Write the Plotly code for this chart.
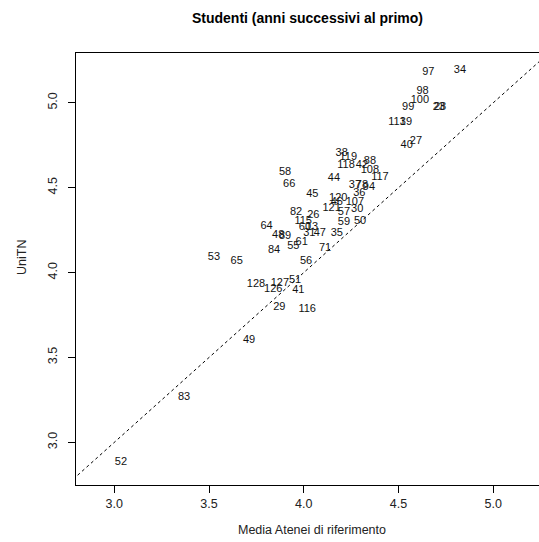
import plotly.graph_objects as go

labels = ["97", "34", "98", "100", "23", "28", "99", "113", "19", "40", "27",
          "38", "119", "118", "42", "88", "108", "117", "58", "66", "44",
          "37", "78", "94", "36", "45", "120", "46", "107", "121", "57", "30",
          "82", "26", "59", "50", "115", "60", "13", "31", "47", "35", "64",
          "48", "89", "55", "61", "84", "71", "56", "53", "65", "128", "127",
          "126", "51", "41", "29", "116", "49", "83", "52"]
media_atenei = [4.657, 4.824, 4.627, 4.613, 4.713, 4.719, 4.551, 4.492, 4.539, 4.543, 4.592,
                4.200, 4.235, 4.223, 4.307, 4.349, 4.349, 4.402, 3.901, 3.923, 4.159,
                4.270, 4.307, 4.344, 4.293, 4.045, 4.182, 4.174, 4.270, 4.147, 4.212, 4.282,
                3.959, 4.050, 4.212, 4.297, 3.997, 4.006, 4.043, 4.029, 4.085, 4.174, 3.804,
                3.865, 3.901, 3.945, 3.989, 3.843, 4.112, 4.012, 3.526, 3.646, 3.748, 3.874,
                3.839, 3.954, 3.971, 3.871, 4.018, 3.711, 3.368, 3.035]
unitn = [5.179, 5.193, 5.069, 5.012, 4.976, 4.976, 4.971, 4.886, 4.886, 4.751, 4.774,
         4.702, 4.678, 4.633, 4.633, 4.658, 4.604, 4.561, 4.590, 4.519, 4.555,
         4.512, 4.515, 4.504, 4.470, 4.462, 4.437, 4.417, 4.417, 4.378, 4.358, 4.372,
         4.358, 4.339, 4.299, 4.303, 4.305, 4.266, 4.266, 4.231, 4.234, 4.231, 4.274,
         4.221, 4.215, 4.156, 4.181, 4.133, 4.146, 4.064, 4.090, 4.064, 3.932, 3.940,
         3.901, 3.956, 3.893, 3.795, 3.783, 3.602, 3.267, 2.884]
ticks = [3.0, 3.5, 4.0, 4.5, 5.0]
tick_text = ["3.0", "3.5", "4.0", "4.5", "5.0"]
diag = [2.5, 5.6]

FONT = "Liberation Sans, Arial, sans-serif"

W, H = 539, 542
L, T, B = 76, 53, 57
PW, PH = W - L, H - T - B
PX_PER_UNIT = 189.5
X0 = 2.798
X1 = X0 + PW / PX_PER_UNIT

fig = go.Figure()
fig.add_trace(go.Scatter(x=diag, y=diag, mode="lines",
                         line=dict(color="black", width=1, dash="dot"),
                         hoverinfo="skip", showlegend=False))
fig.add_trace(go.Scatter(x=media_atenei, y=unitn, mode="text", text=labels,
                         textposition="middle center",
                         textfont=dict(family=FONT, size=11, color="#111111"),
                         showlegend=False))

fig.update_layout(
    width=W, height=H,
    margin=dict(l=L, r=0, t=T, b=B),
    plot_bgcolor="white", paper_bgcolor="white",
    font=dict(family=FONT, color="black"),
    xaxis=dict(range=[X0, X1], tickvals=ticks, ticktext=tick_text,
               showgrid=False, zeroline=False, showline=True, mirror=True,
               linecolor="black", linewidth=1, ticks="outside", ticklen=7,
               tickcolor="black", tickfont=dict(size=12.5, color="#222"),
               ticklabelstandoff=0),
    yaxis=dict(range=[2.749, 5.293], tickvals=ticks, ticktext=tick_text,
               showgrid=False, zeroline=False, showline=True, mirror=False,
               linecolor="black", linewidth=1, ticks="outside", ticklen=7,
               tickcolor="black", tickangle=-90,
               tickfont=dict(size=12.5, color="#222"), ticklabelstandoff=6),
    title=dict(text="<b>Studenti (anni successivi al primo)</b>",
               x=307.5 / W, xref="container", xanchor="center",
               y=1 - 18 / H, yref="container", yanchor="middle",
               font=dict(size=14, family=FONT, color="black")),
)
fig.add_annotation(text="Media Atenei di riferimento", xref="paper", yref="paper",
                   x=(312 - L) / PW, y=-(530 - 485) / PH, xanchor="center",
                   yanchor="middle", showarrow=False,
                   font=dict(size=12.5, family=FONT, color="#222"))
fig.add_annotation(text="UniTN", xref="paper", yref="paper",
                   x=-(L - 22) / PW, y=(485 - 258) / PH, xanchor="center",
                   yanchor="middle", textangle=-90, showarrow=False,
                   font=dict(size=12.5, family=FONT, color="#222"))

fig.write_html("out.html",
               config={"displayModeBar": False},
               post_script="document.body.style.margin='0';"
                           "document.body.style.overflow='hidden';")
